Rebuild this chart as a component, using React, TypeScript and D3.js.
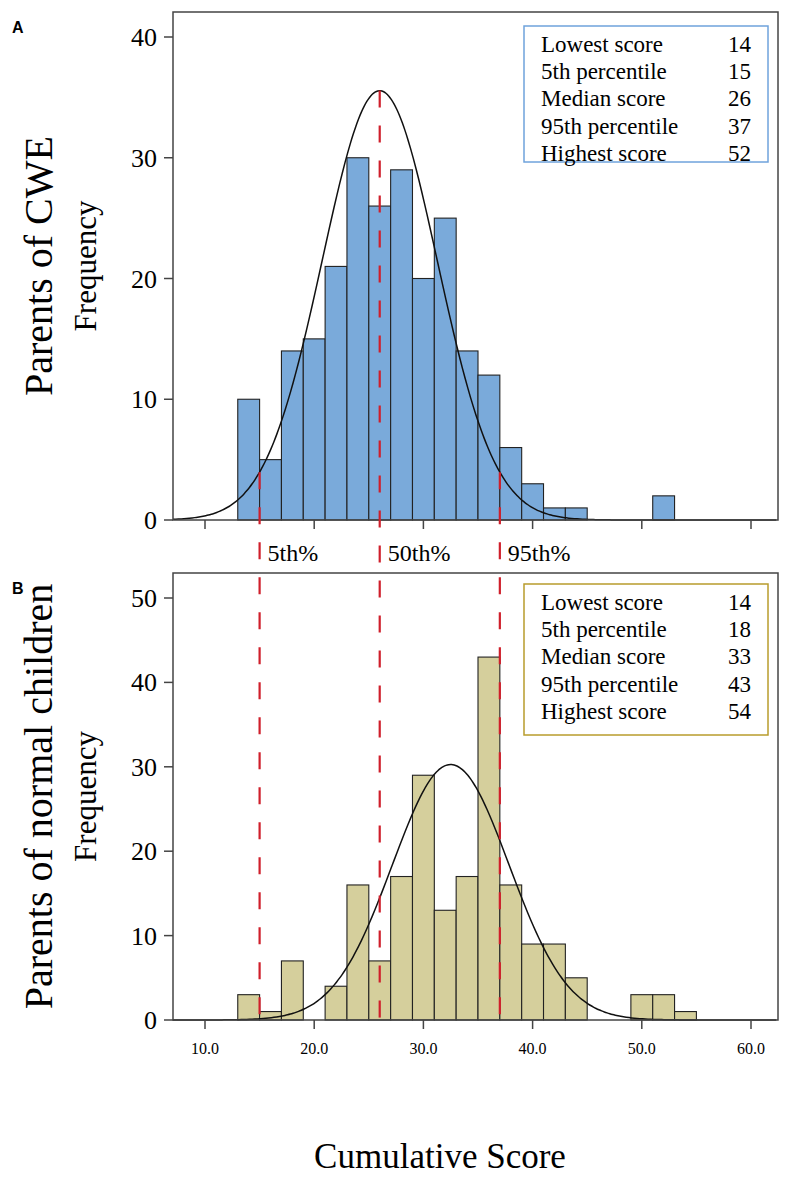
import * as d3 from "d3"

// bins are 2 score points wide, listed by their left edge
const BIN_WIDTH = 2

const cweBinStart = [13, 15, 17, 19, 21, 23, 25, 27, 29, 31, 33, 35, 37, 39, 41, 43, 51]
const cweCounts = [10, 5, 14, 15, 21, 30, 26, 29, 20, 25, 14, 12, 6, 3, 1, 1, 2]

const normalBinStart = [13, 15, 17, 21, 23, 25, 27, 29, 31, 33, 35, 37, 39, 41, 43, 49, 51, 53]
const normalCounts = [3, 1, 7, 4, 16, 7, 17, 29, 13, 17, 43, 16, 9, 9, 5, 3, 3, 1]

// fitted normal curves (mean, sd, sample size)
const cweFit = { mean: 26, sd: 5.25, n: 234 }
const normalFit = { mean: 32.5, sd: 5.35, n: 203 }

const percentileScores = [15, 26, 37]
const percentileLabels = ["5th%", "50th%", "95th%"]

const statLabels = ["Lowest score", "5th percentile", "Median score", "95th percentile", "Highest score"]
const cweStats = [14, 15, 26, 37, 52]
const normalStats = [14, 18, 33, 43, 54]

const xTicks = [10, 20, 30, 40, 50, 60]
const cweYTicks = [0, 10, 20, 30, 40]
const normalYTicks = [0, 10, 20, 30, 40, 50]

const W = 785
const H = 1189
const left = 173
const right = 778
const serif = "Liberation Serif, Tinos, DejaVu Serif, Times New Roman, serif"
const red = "#cf1f2b"

const x = d3.scaleLinear().domain([10, 60]).range([205, 751])
const xMin = x.invert(left)
const xMax = x.invert(right)

const yA = d3.scaleLinear().domain([0, 40]).range([520, 37])
const yB = d3.scaleLinear().domain([0, 50]).range([1020, 598])
const topA = 12
const topB = 573

function density(fit: { mean: number; sd: number; n: number }, v: number) {
  const z = (v - fit.mean) / fit.sd
  return (fit.n * BIN_WIDTH * Math.exp(-0.5 * z * z)) / (fit.sd * Math.sqrt(2 * Math.PI))
}

function Panel({
  starts,
  counts,
  fit,
  y,
  top,
  ticks,
  fill,
  stats,
  boxColor,
  boxTop,
  boxBottom,
  title,
  letter,
}: any) {
  const base = y(0)
  const curve = d3
    .line<number>()
    .x((v) => x(v))
    .y((v) => y(density(fit, v)))
    .curve(d3.curveBasis)(d3.range(xMin, xMax + 0.01, 0.25))
  const midY = (top + base) / 2
  return (
    <g>
      <text x={12} y={top + 21} style={{ fontFamily: "Liberation Sans, Arial, sans-serif" }} fontWeight="bold" fontSize={16}>
        {letter}
      </text>
      {starts.map((s: number, i: number) => (
        <rect
          key={i}
          x={x(s)}
          y={y(counts[i])}
          width={x(s + BIN_WIDTH) - x(s)}
          height={base - y(counts[i])}
          fill={fill}
          stroke="#222"
          strokeWidth={1.1}
        />
      ))}
      <path d={curve || ""} fill="none" stroke="#111" strokeWidth={1.5} />
      <rect x={left} y={top} width={right - left} height={base - top} fill="none" stroke="#444" strokeWidth={1.5} />
      {ticks.map((t: number) => (
        <g key={t}>
          <line x1={left - 9} x2={left} y1={y(t)} y2={y(t)} stroke="#444" strokeWidth={1.5} />
          <text x={157} y={y(t) + 9} textAnchor="end" style={{ fontFamily: serif }} fontSize={26}>
            {t}
          </text>
        </g>
      ))}
      {xTicks.map((t) => (
        <line key={t} x1={x(t)} x2={x(t)} y1={base} y2={base + 9} stroke="#444" strokeWidth={1.5} />
      ))}
      <text transform={`translate(52,${midY}) rotate(-90)`} textAnchor="middle" style={{ fontFamily: serif }} fontSize={40}>
        {title}
      </text>
      <text transform={`translate(96,${midY}) rotate(-90)`} textAnchor="middle" style={{ fontFamily: serif }} fontSize={31}>
        Frequency
      </text>
      <rect x={524} y={boxTop} width={244} height={boxBottom - boxTop} fill="#fff" stroke={boxColor} strokeWidth={1.5} />
      {statLabels.map((l, i) => (
        <g key={l}>
          <text x={541} y={boxTop + 26 + i * 27.2} style={{ fontFamily: serif }} fontSize={23}>
            {l}
          </text>
          <text x={751} y={boxTop + 26 + i * 27.2} textAnchor="end" style={{ fontFamily: serif }} fontSize={23}>
            {stats[i]}
          </text>
        </g>
      ))}
    </g>
  )
}

export default function App() {
  return (
    <svg width={W} height={H} style={{ position: "absolute", left: 0, top: 0, background: "#fff" }}>
      <Panel
        starts={cweBinStart}
        counts={cweCounts}
        fit={cweFit}
        y={yA}
        top={topA}
        ticks={cweYTicks}
        fill="#7aaada"
        stats={cweStats}
        boxColor="#6fa3dc"
        boxTop={26}
        boxBottom={162}
        title="Parents of CWE"
        letter="A"
      />
      <Panel
        starts={normalBinStart}
        counts={normalCounts}
        fit={normalFit}
        y={yB}
        top={topB}
        ticks={normalYTicks}
        fill="#d5cf9c"
        stats={normalStats}
        boxColor="#b89c2c"
        boxTop={584}
        boxBottom={735}
        title="Parents of normal children"
        letter="B"
      />
      {percentileScores.map((p, i) => (
        <g key={p}>
          <line
            x1={x(p)}
            x2={x(p)}
            y1={yA(density(cweFit, p))}
            y2={yB(0)}
            stroke={red}
            strokeWidth={2.2}
            strokeDasharray="17 18"
          />
          <text x={x(p) + 8} y={561} style={{ fontFamily: serif }} fontSize={24}>
            {percentileLabels[i]}
          </text>
        </g>
      ))}
      {xTicks.map((t) => (
        <text key={t} x={x(t)} y={1054} textAnchor="middle" style={{ fontFamily: serif }} fontSize={16}>
          {t.toFixed(1)}
        </text>
      ))}
      <text x={440} y={1168} textAnchor="middle" style={{ fontFamily: serif }} fontSize={35}>
        Cumulative Score
      </text>
    </svg>
  )
}
